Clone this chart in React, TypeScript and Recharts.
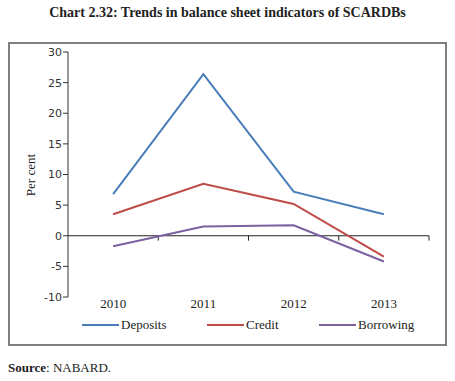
import React from 'react';
import { LineChart, Line, XAxis, YAxis, ReferenceLine } from 'recharts';

const years = ['2010', '2011', '2012', '2013'];
const deposits = [6.8, 26.4, 7.2, 3.5];
const credit = [3.5, 8.5, 5.2, -3.4];
const borrowing = [-1.7, 1.5, 1.7, -4.2];
const yTicks = [-10, -5, 0, 5, 10, 15, 20, 25, 30];

const series = [
  { key: 'deposits', name: 'Deposits', color: '#4A7EBB' },
  { key: 'credit', name: 'Credit', color: '#BE4B48' },
  { key: 'borrowing', name: 'Borrowing', color: '#7D60A0' },
];

const data = years.map((y, i) => ({
  x: i + 0.5,
  year: y,
  deposits: deposits[i],
  credit: credit[i],
  borrowing: borrowing[i],
}));

const xTicks = years.map((_, i) => i + 0.5);
const boundaries = years.map((_, i) => i + 1);

const serif = '"Liberation Serif", "DejaVu Serif", serif';
const sans = '"DejaVu Sans", sans-serif';

const legendItemWidths = [125, 112, 110];

const LegendContent = () => (
  <div style={{ display: 'flex', alignItems: 'center', fontFamily: serif, fontSize: 13, color: '#222' }}>
    {series.map((s, i) => (
      <div key={s.key} style={{ display: 'flex', alignItems: 'center', width: legendItemWidths[i] }}>
        <svg width={37} height={4} style={{ marginRight: 2 }}>
          <line x1={0} y1={2} x2={37} y2={2} stroke={s.color} strokeWidth={2} />
        </svg>
        <span>{s.name}</span>
      </div>
    ))}
  </div>
);

export default function App() {
  return (
    <div style={{ position: 'absolute', left: 0, top: 0, width: 455, height: 381, background: '#fff' }}>
      <div
        style={{
          position: 'absolute',
          left: 0,
          top: 5,
          width: 455,
          textAlign: 'center',
          fontFamily: serif,
          fontWeight: 'bold',
          fontSize: 14,
          color: '#222',
        }}
      >
        Chart 2.32: Trends in balance sheet indicators of SCARDBs
      </div>
      <div
        style={{
          position: 'absolute',
          left: 8,
          top: 42,
          width: 439,
          height: 304,
          border: '2px solid #7f7f7f',
          boxSizing: 'border-box',
        }}
      />
      <div style={{ position: 'absolute', left: 0, top: 0 }}>
        <LineChart width={455} height={381} data={data} margin={{ top: 52, right: 26, bottom: 64, left: 38 }}>
          <XAxis
            dataKey="x"
            type="number"
            domain={[0, 4]}
            ticks={xTicks}
            tickFormatter={(v: number) => years[Math.floor(v)]}
            axisLine={false}
            tickLine={false}
            tickSize={0}
            tickMargin={2}
            height={20}
            tick={{ fontFamily: serif, fontSize: 13, fill: '#222' }}
          />
          <YAxis
            type="number"
            domain={[-10, 30]}
            ticks={yTicks}
            interval={0}
            width={30}
            axisLine={{ stroke: '#333', strokeWidth: 1 }}
            tickLine={{ stroke: '#333' }}
            tickSize={5}
            tickMargin={1}
            tick={{ fontFamily: sans, fontSize: 11, fill: '#333' }}
            label={{
              content: () => (
                <text
                  x={32}
                  y={175}
                  transform="rotate(-90 32 175)"
                  textAnchor="middle"
                  dominantBaseline="middle"
                  style={{ fontFamily: serif, fontSize: 13, fill: '#222' }}
                >
                  Per cent
                </text>
              ),
            }}
          />
          <ReferenceLine y={0} stroke="#222" strokeWidth={1} />
          {boundaries.map((b) => (
            <ReferenceLine
              key={b}
              segment={[
                { x: b, y: 0 },
                { x: b, y: -0.8 },
              ]}
              stroke="#222"
              strokeWidth={1}
            />
          ))}
          {series.map((s) => (
            <Line
              key={s.key}
              type="linear"
              dataKey={s.key}
              name={s.name}
              stroke={s.color}
              strokeWidth={2}
              dot={false}
              isAnimationActive={false}
            />
          ))}
        </LineChart>
      </div>
      <div style={{ position: 'absolute', left: 82, top: 317 }}>
        <LegendContent />
      </div>
      <div
        style={{
          position: 'absolute',
          left: 8,
          top: 360,
          fontFamily: serif,
          fontSize: 13,
          color: '#222',
        }}
      >
        <b>Source</b>: NABARD.
      </div>
    </div>
  );
}
